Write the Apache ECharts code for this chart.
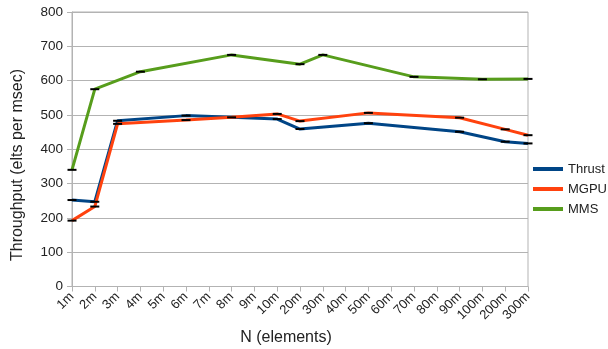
<!DOCTYPE html>
<html>
<head>
<meta charset="utf-8">
<script src="https://cdn.jsdelivr.net/npm/echarts@6/dist/echarts.min.js"></script>
<style>
  html, body { margin: 0; padding: 0; background: #fff; }
  #chart { width: 608px; height: 349px; }
</style>
</head>
<body>
<div id="chart"></div>
<script>
// categories (N elements)
var categories = ['1m', '2m', '3m', '4m', '5m', '6m', '7m', '8m', '9m', '10m', '20m', '30m', '40m', '50m', '60m', '70m', '80m', '90m', '100m', '200m', '300m']
// throughput, elts per msec (null = not measured)
var thrust = [252, 247, 483, null, null, 498, null, null, null, 488, 459, null, null, 476, null, null, null, 451, null, 422, 417]
var mgpu = [192, 233, 474, null, null, 485, null, 493, null, 503, 482, null, null, 506, null, null, null, 492, null, 458, 441]
var mms = [340, 575, null, 626, null, null, null, 675, null, null, 648, 675, null, null, null, 611, null, null, 604, null, 605]
var yTicks = [0, 100, 200, 300, 400, 500, 600, 700, 800]

var font = 'Liberation Sans, Arial, sans-serif'
var txt = '#222'

function makeSeries (name, data, color) {
  return {
    name: name,
    type: 'line',
    data: data,
    connectNulls: true,
    symbol: 'rect',
    symbolSize: [9, 2],
    itemStyle: { color: '#000' },
    lineStyle: { color: color, width: 3 },
    emphasis: { disabled: true }
  }
}

var myChart = echarts.init(document.getElementById('chart'))
var option = {
  backgroundColor: '#fff',
  animation: false,
  grid: {
    show: true,
    borderColor: '#b3b3b3',
    borderWidth: 1,
    left: 72,
    right: 80,
    top: 12,
    bottom: 62.5
  },
  legend: {
    orient: 'vertical',
    left: 533,
    top: 162,
    padding: 0,
    itemWidth: 30,
    itemHeight: 4,
    itemGap: 6,
    icon: 'rect',
    textStyle: { fontFamily: font, fontSize: 13, lineHeight: 14, color: txt },
    data: [
      { name: 'Thrust', itemStyle: { color: '#004586' } },
      { name: 'MGPU', itemStyle: { color: '#ff420e' } },
      { name: 'MMS', itemStyle: { color: '#579d1c' } }
    ]
  },
  // axis titles placed where the original puts them
  graphic: [
    {
      type: 'text',
      x: 18, y: 165,
      rotation: Math.PI / 2,
      style: { text: 'Throughput (elts per msec)', font: '16px ' + font, fill: txt, align: 'center', verticalAlign: 'middle' }
    },
    {
      type: 'text',
      x: 286, y: 338,
      style: { text: 'N (elements)', font: '16px ' + font, fill: txt, align: 'center', verticalAlign: 'middle' }
    }
  ],
  xAxis: {
    type: 'category',
    data: categories,
    boundaryGap: false,
    axisLine: { lineStyle: { color: '#b3b3b3' } },
    axisTick: { alignWithLabel: true, length: 5, lineStyle: { color: '#b3b3b3' } },
    axisLabel: { rotate: 45, interval: 0, fontFamily: font, fontSize: 13, color: txt, margin: 8 },
    splitLine: { show: false }
  },
  yAxis: {
    type: 'value',
    min: 0,
    max: yTicks[yTicks.length - 1],
    interval: yTicks[1] - yTicks[0],
    axisLine: { show: true, lineStyle: { color: '#b3b3b3' } },
    axisTick: { show: true, length: 5, lineStyle: { color: '#b3b3b3' } },
    axisLabel: { fontFamily: font, fontSize: 13.5, color: txt, margin: 9 },
    splitLine: { lineStyle: { color: '#b3b3b3' } }
  },
  series: [
    makeSeries('Thrust', thrust, '#004586'),
    makeSeries('MGPU', mgpu, '#ff420e'),
    makeSeries('MMS', mms, '#579d1c')
  ]
}
myChart.setOption(option)
</script>
</body>
</html>
